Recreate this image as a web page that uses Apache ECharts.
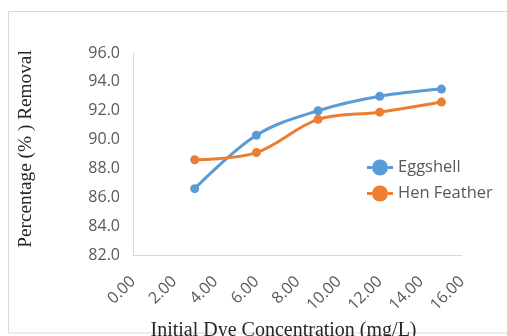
<!DOCTYPE html>
<html>
<head>
<meta charset="utf-8">
<script src="https://cdn.jsdelivr.net/npm/echarts@6/dist/echarts.min.js"></script>
<style>
  html, body { margin: 0; padding: 0; background: #fff; }
  #chart { width: 507px; height: 336px; }
</style>
</head>
<body>
<div id="chart"></div>
<script>
// Initial dye concentration (mg/L)
const concentrations = [3, 6, 9, 12, 15];
// Percentage removal for each adsorbent
const eggshell = [86.6, 90.3, 92.0, 93.0, 93.5];
const henFeather = [88.6, 89.1, 91.4, 91.9, 92.6];
const seriesNames = ['Eggshell', 'Hen Feather'];

const pairs = (xs, ys) => xs.map((x, i) => [x, ys[i]]);

// legend key: short line with a large dot in the middle
const keyIcon = 'path://M0,6.5 L5,6.5 L5,9.5 L0,9.5 Z ' +
  'M5,8 A8,8 0 1,1 21,8 A8,8 0 1,1 5,8 Z ' +
  'M21,6.5 L26,6.5 L26,9.5 L21,9.5 Z';

const chart = echarts.init(document.getElementById('chart'), null, { renderer: 'canvas' });

chart.setOption({
  backgroundColor: '#ffffff',
  animation: false,
  graphic: [{
    type: 'rect',
    shape: { x: 8.5, y: 11.5, width: 520, height: 321.5 },
    style: { fill: 'none', stroke: '#d9d9d9', lineWidth: 1 },
    silent: true
  }],
  grid: { left: 133, right: 45, top: 53, bottom: 81, containLabel: false, outerBoundsMode: 'none' },
  legend: {
    data: seriesNames.map(n => ({ name: n, icon: keyIcon })),
    orient: 'vertical',
    left: 362,
    top: 154,
    itemWidth: 26,
    itemHeight: 16,
    itemGap: 9,
    textStyle: { fontFamily: 'Open Sans', fontSize: 16.5, color: '#595959' }
  },
  xAxis: {
    type: 'value',
    min: 0,
    max: 16,
    interval: 2,
    name: 'Initial Dye Concentration (mg/L)',
    nameLocation: 'middle',
    nameGap: 60,
    nameTextStyle: { fontFamily: 'Liberation Serif', fontSize: 20, color: '#262626', padding: [0, 28, 0, 0] },
    axisLine: { lineStyle: { color: '#d9d9d9', width: 1 } },
    axisTick: { show: false },
    splitLine: { show: false },
    axisLabel: {
      rotate: 45,
      margin: 24,
      fontFamily: 'Open Sans',
      fontSize: 16,
      color: '#595959',
      formatter: v => v.toFixed(2)
    }
  },
  yAxis: {
    type: 'value',
    min: 82,
    max: 96,
    interval: 2,
    name: 'Percentage (% ) Removal',
    nameLocation: 'middle',
    nameGap: 98,
    nameTextStyle: { fontFamily: 'Liberation Serif', fontSize: 19.3, color: '#262626', padding: [0, 0, 0, 10] },
    axisLine: { show: true, lineStyle: { color: '#d9d9d9', width: 1 } },
    axisTick: { show: false },
    splitLine: { show: false },
    axisLabel: {
      margin: 13,
      fontFamily: 'Open Sans',
      fontSize: 16,
      color: '#595959',
      formatter: v => v.toFixed(1)
    }
  },
  series: [
    {
      name: seriesNames[0],
      type: 'line',
      data: pairs(concentrations, eggshell),
      smooth: 0.35,
      symbol: 'circle',
      symbolSize: 9,
      color: '#5B9BD5',
      lineStyle: { width: 3 }
    },
    {
      name: seriesNames[1],
      type: 'line',
      data: pairs(concentrations, henFeather),
      smooth: 0.35,
      symbol: 'circle',
      symbolSize: 9,
      color: '#ED7D31',
      lineStyle: { width: 3 }
    }
  ]
});
</script>
</body>
</html>
